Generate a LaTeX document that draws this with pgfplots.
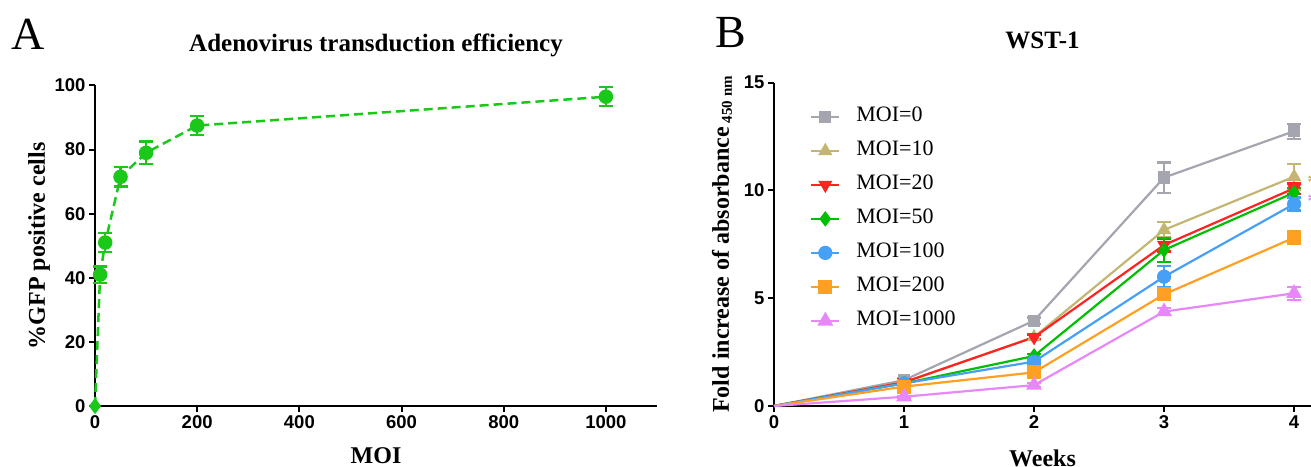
\documentclass[border=0pt]{standalone}
\usepackage{fontspec}
\setmainfont{Liberation Serif}
\setsansfont{Liberation Sans}
\usepackage{pgfplots}
\pgfplotsset{compat=1.18}

\definecolor{gfpgreen}{RGB}{25,200,25}
\definecolor{moi0}{RGB}{165,165,175}
\definecolor{moi10}{RGB}{195,182,115}
\definecolor{moi20}{RGB}{255,35,35}
\definecolor{moi50}{RGB}{0,190,0}
\definecolor{moi100}{RGB}{70,160,245}
\definecolor{moi200}{RGB}{255,160,35}
\definecolor{moi1000}{RGB}{232,135,250}

\pgfplotsset{
  prism/.style={
    scale only axis,
    axis lines=left,
    axis line style={line width=2.4pt,-},
    tick align=outside,
    major tick length=6pt,
    tick style={line width=2pt,black},
    enlargelimits=false,
    clip=false,
    /pgf/number format/assume math mode=true,
    /pgf/number format/1000 sep={},
    ticklabel style={font=\sffamily\bfseries\fontsize{18.5}{18.5}\selectfont},
    every axis title/.style={at={(0.5,1)},anchor=base,yshift=34pt,
      font=\bfseries\fontsize{25}{25}\selectfont},
  },
  ebar/.style={
    error bars/.cd, y dir=both, y explicit,
    error bar style={line width=2.2pt,solid},
    error mark options={rotate=90,mark size=7pt,line width=2.2pt,solid},
  },
}

\begin{document}
\begin{tikzpicture}
\path[use as bounding box] (0pt,0pt) rectangle (1311pt,466pt);

\node[anchor=base west,inner sep=0pt,font=\fontsize{46}{46}\selectfont] at (11pt,416pt) {A};
\node[anchor=base west,inner sep=0pt,font=\fontsize{46}{46}\selectfont] at (715pt,418pt) {B};

% ---------- panel A ----------
\begin{axis}[prism,
  at={(95pt,60pt)}, anchor=south west,
  width=562pt, height=320.5pt,
  xmin=0, xmax=1100, ymin=0, ymax=100,
  xtick={0,200,400,600,800,1000},
  ytick={0,20,40,60,80,100},
  title={Adenovirus transduction efficiency},
  xlabel={MOI},
  ylabel={\%GFP positive cells},
  every axis x label/.style={at={([yshift=-57pt]axis description cs:0.5,0)},anchor=base,
    font=\bfseries\fontsize{24}{24}\selectfont},
  every axis y label/.style={at={([xshift=-56pt]axis description cs:0,0.5)},anchor=center,rotate=90,
    font=\bfseries\fontsize{24}{24}\selectfont},
]
\addplot[gfpgreen, line width=2.5pt, dash pattern=on 9pt off 5pt,
  mark=*, mark size=6pt, mark options={solid}, ebar] coordinates {
  (10,41) +- (0,2.5)
  (20,51) +- (0,3)
  (50,71.5) +- (0,3)
  (100,79) +- (0,3.5)
  (200,87.5) +- (0,3)
  (1000,96.5) +- (0,3)
};
% first segment from the uninfected control, drawn with a diamond at the origin
\addplot[gfpgreen, line width=2.5pt, dash pattern=on 9pt off 5pt,
  mark=diamond*, mark size=6pt, mark indices={1}, mark options={solid}] coordinates {
  (0,0) (10,41)
};
\end{axis}

% ---------- panel B ----------
\begin{axis}[prism,
  at={(774pt,60pt)}, anchor=south west,
  width=537pt, height=323.3pt,
  xmin=0, xmax=4.13, ymin=0, ymax=15,
  xtick={0,1,2,3,4},
  ytick={0,5,10,15},
  title={WST-1},
  xlabel={Weeks},
  ylabel={Fold increase of absorbance\,\raisebox{-3pt}{\fontsize{15}{15}\selectfont 450 nm}},
  every axis x label/.style={at={([yshift=-60pt]axis description cs:0.5,0)},anchor=base,
    font=\bfseries\fontsize{24}{24}\selectfont},
  every axis y label/.style={at={([xshift=-52pt]axis description cs:0,0.5)},anchor=center,rotate=90,
    font=\bfseries\fontsize{24}{24}\selectfont},
  legend image code/.code={\draw[mark repeat=2,mark phase=2,#1] plot coordinates {(0pt,0pt)(14pt,0pt)(28pt,0pt)};},
  legend style={at={([xshift=36pt,yshift=-24pt]axis description cs:0,1)}, anchor=north west,
    draw=none, fill=none, inner sep=0pt, row sep=14pt, column sep=16pt,
    font=\fontsize{22}{22}\selectfont,
    nodes={inner sep=0pt,text height=15pt,text depth=5pt}},
  legend cell align=left,
]
% week 0 to 1 segments (no marker at the origin)
\addplot[moi0, line width=2.2pt, forget plot] coordinates {(0,0) (1,1.2)};
\addplot[moi10, line width=2.2pt, forget plot] coordinates {(0,0) (1,1.1)};
\addplot[moi20, line width=2.2pt, forget plot] coordinates {(0,0) (1,1.1)};
\addplot[moi50, line width=2.2pt, forget plot] coordinates {(0,0) (1,1.05)};
\addplot[moi100, line width=2.2pt, forget plot] coordinates {(0,0) (1,1.05)};
\addplot[moi200, line width=2.2pt, forget plot] coordinates {(0,0) (1,0.9)};
\addplot[moi1000, line width=2.2pt, forget plot] coordinates {(0,0) (1,0.43)};

\addplot[moi0, line width=2.2pt, mark=square*, mark size=5pt, ebar] coordinates {
  (1,1.2) +- (0,0.1) (2,3.96) +- (0,0.15) (3,10.6) +- (0,0.7) (4,12.75) +- (0,0.35)};
\addlegendentry{MOI=0}
\addplot[moi10, line width=2.2pt, mark=triangle*, mark size=6pt, ebar] coordinates {
  (1,1.1) +- (0,0.05) (2,3.2) +- (0,0.1) (3,8.17) +- (0,0.35) (4,10.64) +- (0,0.6)};
\addlegendentry{MOI=10}
\addplot[moi20, line width=2.2pt, mark=triangle*, mark size=6pt, mark options={rotate=180}, ebar] coordinates {
  (1,1.1) +- (0,0.05) (2,3.19) +- (0,0.1) (3,7.47) +- (0,0.3) (4,10.1) +- (0,0.25)};
\addlegendentry{MOI=20}
\addplot[moi50, line width=2.2pt, mark=diamond*, mark size=6pt, ebar] coordinates {
  (1,1.05) +- (0,0.05) (2,2.32) +- (0,0.1) (3,7.24) +- (0,0.55) (4,9.9) +- (0,0.2)};
\addlegendentry{MOI=50}
\addplot[moi100, line width=2.2pt, mark=*, mark size=6pt, ebar] coordinates {
  (1,1.05) +- (0,0.05) (2,2.06) +- (0,0.1) (3,6.0) +- (0,0.5) (4,9.37) +- (0,0.3)};
\addlegendentry{MOI=100}
\addplot[moi200, line width=2.2pt, mark=square*, mark size=6pt, ebar] coordinates {
  (1,0.9) +- (0,0.05) (2,1.56) +- (0,0.1) (3,5.18) +- (0,0.2) (4,7.81) +- (0,0.3)};
\addlegendentry{MOI=200}
\addplot[moi1000, line width=2.2pt, mark=triangle*, mark size=7pt, ebar] coordinates {
  (1,0.43) +- (0,0.05) (2,0.97) +- (0,0.1) (3,4.38) +- (0,0.15) (4,5.23) +- (0,0.3)};
\addlegendentry{MOI=1000}

% significance marks, cut by the right edge as in the source
\node[anchor=west,inner sep=0pt,text=moi200,font=\bfseries\fontsize{22}{22}\selectfont] at (axis cs:4.1,10.4) {*};
\node[anchor=west,inner sep=0pt,text=moi1000,font=\bfseries\fontsize{22}{22}\selectfont] at (axis cs:4.1,9.5) {*};
\node[anchor=west,inner sep=0pt,text=moi1000,font=\bfseries\fontsize{22}{22}\selectfont] at (axis cs:4.12,7.7) {*};
\end{axis}
\end{tikzpicture}
\end{document}
